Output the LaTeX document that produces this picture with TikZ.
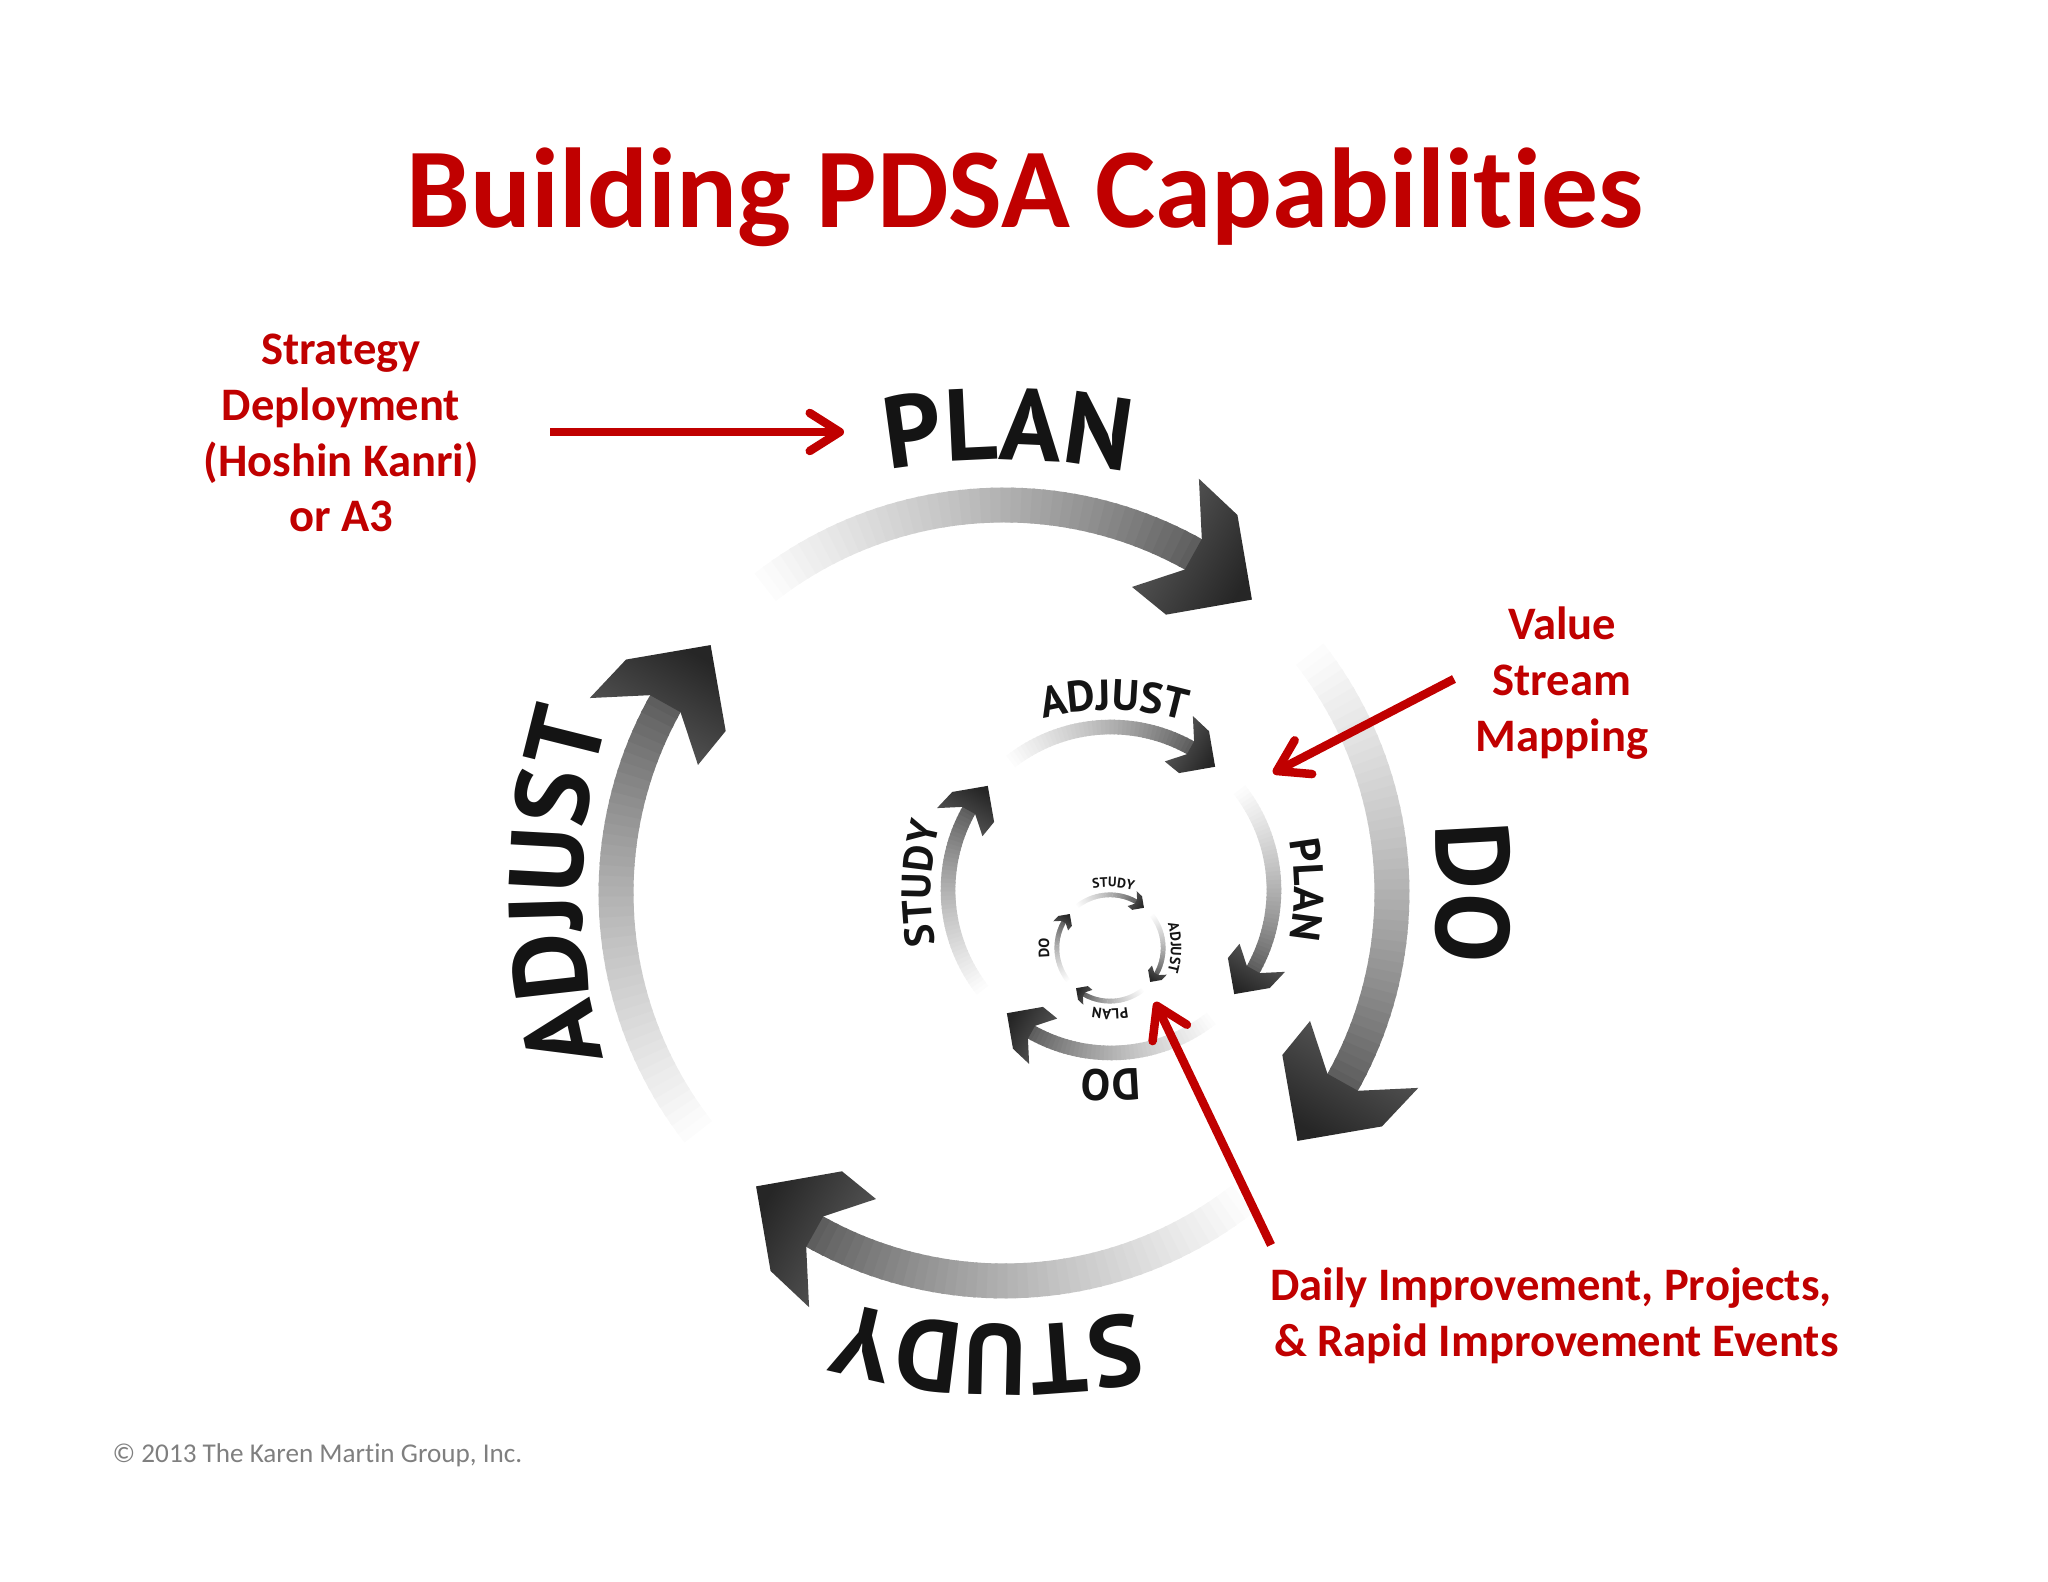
\documentclass[tikz,border=0pt]{standalone}
\usepackage{fontspec}
\usetikzlibrary{arrows.meta,decorations.text}
\setmainfont{Carlito}[Ligatures={NoCommon,NoRequired,NoContextual}]
\newfontfamily\labfont{PT Sans}[BoldFont={PT Sans Bold}]
\definecolor{kmred}{HTML}{C00000}
\definecolor{kmgrey}{HTML}{7F7F7F}
\tikzset{
  x=0.01cm,y=0.01cm,
  redtext/.style={text=kmred,font=\bfseries\fontsize{13.25}{15.9}\selectfont,align=center},
  redarrow/.style={draw=kmred,line width=0.085cm,-{Straight Barb[length=0.3cm,width=0.38cm,round]}},
}
% cx, cy, scale, start angle
\newcommand{\pdsaarrow}[4]{%
  \begin{scope}[shift={(#1,#2)}]
    \pgfmathsetmacro\rI{0.955*388*#3}
    \pgfmathsetmacro\rO{1.045*388*#3}
    \foreach \i in {0,...,44}{%
      \pgfmathsetmacro\aA{#4-\i*1.5}
      \pgfmathsetmacro\aB{#4-(\i+1)*1.5-0.4}
      \pgfmathsetmacro\tt{\i/44}
      \pgfmathsetmacro\pc{1+48*\tt+14*\tt*\tt*\tt}
      \fill[black!\pc] (\aA:\rI) -- (\aB:\rI) -- (\aB:\rO) -- (\aA:\rO) -- cycle;
    }
    \pgfmathsetmacro\at{#4-78.2}
    \pgfmathsetmacro\hA{\at+15}\pgfmathsetmacro\rA{1.18*388*#3}
    \pgfmathsetmacro\hB{\at+8.5}\pgfmathsetmacro\rB{1.145*388*#3}
    \pgfmathsetmacro\rT{0.99*388*#3}
    \pgfmathsetmacro\hC{\at+10}\pgfmathsetmacro\rC{0.83*388*#3}
    \pgfmathsetmacro\hD{\at+17.5}\pgfmathsetmacro\rD{0.855*388*#3}
    \pgfmathsetmacro\hN{\at+11}
    \pgfmathsetmacro\sa{\at+10-90-90}
    \shade[top color=black!85,bottom color=black!63,shading angle=\sa]
      (\hN:\rO) -- (\hA:\rA) -- (\hB:\rB) -- (\at:\rT) -- (\hC:\rC) -- (\hD:\rD) -- (\hN:\rI) -- cycle;
  \end{scope}}
% cx, cy, baseline radius, mid angle, font size, word  (baseline flatter than the ring)
\newcommand{\pdsalabel}[6]{%
  \pgfmathsetmacro\Rf{1.45*#3}
  \pgfmathsetmacro\dR{#3-\Rf}
  \path[shift={(#1,#2)},shift={(#4:\dR)},decorate,decoration={text along path,text align=center,text color=black!92,
      text={|\labfont\bfseries\fontsize{#5}{#5}\selectfont|#6}}]
    ({#4+48}:\Rf) arc[start angle={#4+48},end angle={#4-48},radius={\Rf*0.01cm}];}
\begin{document}
\begin{tikzpicture}
\useasboundingbox (0,0) rectangle (2048,1582);
% outer ring
\pdsaarrow{1004}{689}{1}{128}
\pdsaarrow{1004}{689}{1}{38}
\pdsaarrow{1004}{689}{1}{-52}
\pdsaarrow{1004}{689}{1}{-142}
\pdsalabel{1004}{689}{433}{89.5}{29}{PLAN}
\pdsalabel{1004}{689}{434}{0}{29.5}{DO}
\pdsalabel{1004}{689}{432}{-92}{28.5}{STUDY}
\pdsalabel{1004}{689}{422}{179.3}{29.6}{ADJUST}
% middle ring
\pdsaarrow{1111}{692}{0.42}{128}
\pdsaarrow{1111}{692}{0.42}{38}
\pdsaarrow{1111}{692}{0.42}{-52}
\pdsaarrow{1111}{692}{0.42}{-142}
\pdsalabel{1111}{692}{180}{89}{12.3}{ADJUST}
\pdsalabel{1111}{692}{183}{0}{12}{PLAN}
\pdsalabel{1111}{692}{180}{-90}{12.5}{DO}
\pdsalabel{1111}{692}{180}{178}{11.7}{STUDY}
% inner ring
\pdsaarrow{1110}{634}{0.137}{128}
\pdsaarrow{1110}{634}{0.137}{38}
\pdsaarrow{1110}{634}{0.137}{-52}
\pdsaarrow{1110}{634}{0.137}{-142}
\pdsalabel{1110}{634}{61}{87}{3.9}{STUDY}
\pdsalabel{1110}{634}{61}{0}{4.2}{ADJUST}
\pdsalabel{1110}{634}{61}{-90}{4.2}{PLAN}
\pdsalabel{1110}{634}{61}{180}{4.2}{DO}
% texts
\node[text=kmred,font=\bfseries\fontsize{32.3}{38}\selectfont] (title) at (1025,1385) {Building PDSA Capabilities};
\node[redtext] (strategy) at (341,1149) {Strategy\\Deployment\\(Hoshin Kanri)\\or A3};
\node[redtext] (vsm) at (1562,899) {Value\\Stream\\Mapping};
\node[redtext] (daily) at (1551,266) {Daily Improvement, Projects,\\\ \& Rapid Improvement Events};
\node[anchor=west,text=kmgrey,inner sep=0pt,font=\fontsize{7.72}{9}\selectfont] (copy) at (112,127) {© 2013 The Karen Martin Group, Inc.};
% red connectors
\coordinate (s1) at (550,1150);
\coordinate (e1) at (844,1150);
\coordinate (s2) at (1454,903);
\coordinate (e2) at (1273,809);
\coordinate (s3) at (1271,337);
\coordinate (e3) at (1155,580);
\draw[redarrow] (s1) -- (e1);
\draw[redarrow] (s2) -- (e2);
\draw[redarrow] (s3) -- (e3);
\end{tikzpicture}
\end{document}
